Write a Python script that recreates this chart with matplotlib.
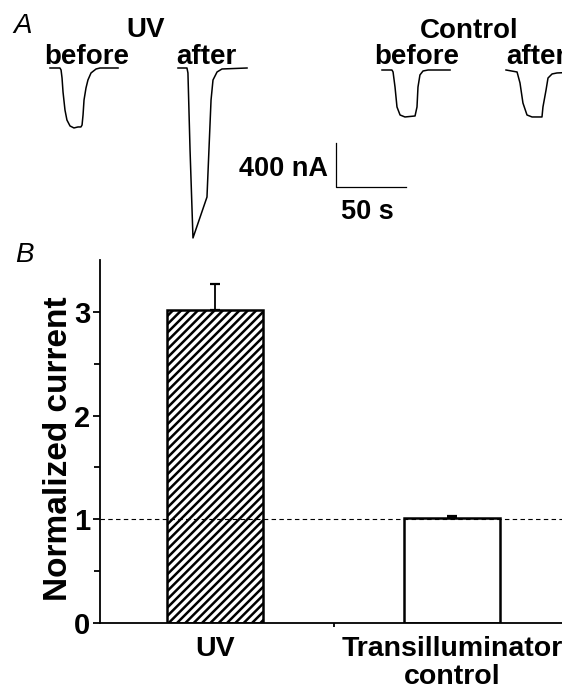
"""Figura: corriente antes/después de UV (A) y corriente normalizada (B)"""
import matplotlib
matplotlib.use("Agg")
import matplotlib.pyplot as plt
import numpy as np

plt.rcParams['font.family'] = ['Liberation Sans', 'DejaVu Sans']
plt.rcParams['hatch.linewidth'] = 1.8

W, H = 562, 686

# ------------------------------------------------------------
# Datos panel A: trazos de corriente (t en s, I en nA)
# ------------------------------------------------------------
uv_before_t = [0, 7.1, 7.9, 8.6, 9.3, 10.7, 12.1, 14.3, 17.1, 20, 22.1, 22.9,
               23.6, 24.3, 25.7, 27.1, 29.3, 32.9, 35.7, 48.6]
uv_before_i = [0, 0, -18, -91, -218, -382, -473, -527, -545, -536, -536, -518,
               -427, -291, -182, -109, -45, -9, 0, 0]

uv_after_t = [0, 6.4, 7.1, 8.6, 10.7, 20.7, 22.1, 23.6, 25.0, 27.9, 31.4, 49.3]
uv_after_i = [0, 0, -45, -745, -1545, -1173, -745, -291, -109, -36, -9, 0]

ctrl_before_t = [0, 7.1, 7.9, 9.3, 10.7, 12.9, 16.4, 23.6, 25.0, 25.7, 27.1,
                 29.3, 32.9, 48.6]
ctrl_before_i = [0, 0, -18, -155, -336, -409, -427, -418, -336, -155, -45,
                 -9, 0, 0]

ctrl_after_t = [0, 7.9, 10.0, 12.1, 15.0, 18.6, 25.7, 26.4, 28.6, 30.0, 32.9,
                36.4, 52.0]
ctrl_after_i = [0, -18, -118, -300, -409, -427, -427, -336, -182, -73, -36,
                -27, -18]

scale_na = 400
scale_s = 50

# ------------------------------------------------------------
# Datos panel B: corriente normalizada
# ------------------------------------------------------------
categorias = ['UV', 'Transilluminator\ncontrol']
valores = [3.02, 1.01]
errores = [0.25, 0.02]

# escalas del panel A (px por s, nA por px)
PX_S = 1.4
NA_PX = 400 / 44.0


def fx(x):
    return x / W


def fy(y):
    return 1 - y / H


fig = plt.figure(figsize=(W / 100, H / 100), dpi=100)

# ============================================================
# PANEL A
# ============================================================
axa = fig.add_axes([0, fy(240), 1, 240 / H])
axa.set_xlim(0, W / PX_S)
axa.set_ylim(-(240 - 68) * NA_PX, 68 * NA_PX)
axa.axis('off')

trazos = [
    (uv_before_t, uv_before_i, 50 / PX_S, 0),
    (uv_after_t, uv_after_i, 178 / PX_S, 0),
    (ctrl_before_t, ctrl_before_i, 382 / PX_S, -2 * NA_PX),
    (ctrl_after_t, ctrl_after_i, 506 / PX_S, -2 * NA_PX),
]
for t, i, x0, y0 in trazos:
    axa.plot(np.array(t) + x0, np.array(i) + y0, color='black', lw=1.1,
             solid_joinstyle='round', clip_on=True)

# barra de escala
sx0 = 336 / PX_S
sy0 = -(187 - 68) * NA_PX
axa.plot([sx0, sx0, sx0 + scale_s], [sy0 + scale_na, sy0, sy0],
         color='black', lw=0.9)

fs_a = 20
fig.text(fx(146), fy(37), 'UV', ha='center', va='baseline', fontsize=fs_a,
         fontweight='bold')
fig.text(fx(87), fy(64), 'before', ha='center', va='baseline', fontsize=fs_a,
         fontweight='bold')
fig.text(fx(206), fy(64), 'after', ha='center', va='baseline', fontsize=fs_a,
         fontweight='bold')
fig.text(fx(469), fy(38), 'Control', ha='center', va='baseline',
         fontsize=fs_a, fontweight='bold')
fig.text(fx(417), fy(64), 'before', ha='center', va='baseline',
         fontsize=fs_a, fontweight='bold')
fig.text(fx(506), fy(64), 'after', ha='left', va='baseline', fontsize=fs_a,
         fontweight='bold')
fig.text(fx(328), fy(176), f'{scale_na} nA', ha='right', va='baseline',
         fontsize=19.5, fontweight='bold')
fig.text(fx(367), fy(219), f'{scale_s} s', ha='center', va='baseline',
         fontsize=19.5, fontweight='bold')

fig.text(fx(13), fy(33), 'A', ha='left', va='baseline', fontsize=20,
         fontstyle='italic')
fig.text(fx(15), fy(262), 'B', ha='left', va='baseline', fontsize=20,
         fontstyle='italic')

# ============================================================
# PANEL B
# ============================================================
axb = fig.add_axes([fx(100), fy(623), (W - 100) / W, (623 - 260) / H])
x = np.arange(len(categorias))
paso = 237.0
axb.set_xlim(-(215 - 100) / paso, 1 + (W - 452) / paso)
axb.set_ylim(0, 3.5)

ancho = 96 / paso
axb.bar(x[0], valores[0], width=ancho, facecolor='white', edgecolor='black',
        hatch='////', linewidth=1.8, zorder=2)
axb.bar(x[1], valores[1], width=ancho, facecolor='white', edgecolor='black',
        linewidth=1.8, zorder=2)
axb.errorbar(x, valores, yerr=[[0, 0], errores], fmt='none', ecolor='black',
             elinewidth=1.3, capsize=3.5, capthick=1.6, zorder=3)

axb.axhline(1, color='black', lw=0.8, ls=(0, (4, 3)), zorder=4)

for s in ['top', 'right']:
    axb.spines[s].set_visible(False)
axb.spines['left'].set_linewidth(1.3)
axb.spines['bottom'].set_linewidth(1.3)

axb.set_yticks([0, 1, 2, 3])
axb.set_yticks([0.5, 1.5, 2.5], minor=True)
axb.tick_params(axis='y', which='major', length=5, width=1.3, pad=2,
                labelsize=21)
axb.tick_params(axis='y', which='minor', length=4, width=1.3)
for lab in axb.get_yticklabels():
    lab.set_fontweight('bold')

axb.set_xticks(x)
axb.set_xticklabels(categorias, fontsize=20.5, fontweight='bold',
                    linespacing=1.12)
axb.set_xticks([0.5], minor=True)
axb.tick_params(axis='x', which='major', length=0, pad=9)
axb.tick_params(axis='x', which='minor', length=3, width=1.3)

fig.text(fx(59), fy(449), 'Normalized current', rotation=90, ha='center',
         va='center', fontsize=24, fontweight='bold')

plt.savefig('out.png', dpi=100)
plt.close()
